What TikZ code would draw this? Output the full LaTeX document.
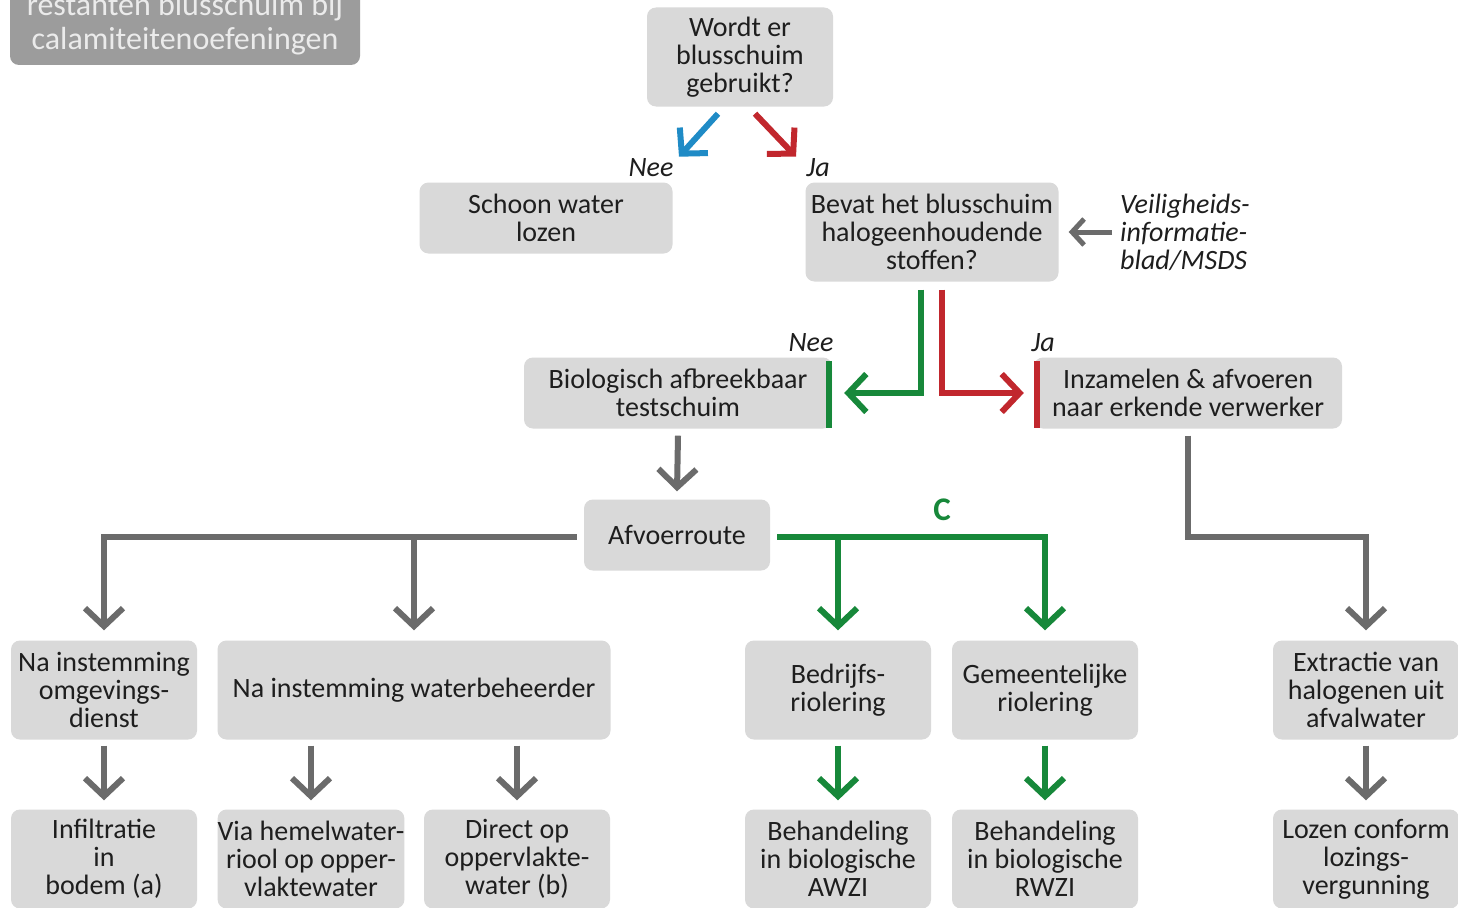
\documentclass[tikz,border=0pt]{standalone}
\usepackage{fontspec}
\setmainfont{Carlito}
\usepackage{xcolor}
\usetikzlibrary{arrows.meta,calc,positioning}

\definecolor{boxgray}{HTML}{D9D9D9}
\definecolor{titlegray}{HTML}{9C9C9C}
\definecolor{linegray}{HTML}{6B6B6B}
\definecolor{okgreen}{HTML}{17883A}
\definecolor{nored}{HTML}{C1272D}
\definecolor{neeblue}{HTML}{1F8BC6}
\definecolor{inkdark}{HTML}{1E1E1E}

\tikzset{
  box/.style={fill=boxgray, rounded corners=9pt, align=center, inner sep=0pt, text=inkdark,
    font=\fontsize{28}{28}\selectfont, minimum width=186pt, minimum height=99pt},
  flow/.style={draw=linegray, line width=6pt, -{Straight Barb[length=18pt,width=38pt]}},
  lab/.style={font=\fontsize{28}{28}\selectfont\itshape, text=inkdark, inner sep=0pt},
}

\begin{document}
\begin{tikzpicture}[x=1pt, y=-1pt]
    \useasboundingbox (0,0) rectangle (1458,907);
    \fill[white] (0,0) rectangle (1458,907);
    \clip (0,0) rectangle (1458,907);

    % title, cut off at the top
    \node[box, fill=titlegray, text=white!92!black, font=\fontsize{32}{32}\selectfont,
        minimum width=350pt, minimum height=82pt] (titel) at (185,24) {restanten blusschuim bij\\[2pt]calamiteitenoefeningen};

    \node[box] (gebruikt) at (740,57) {Wordt er\\blusschuim\\gebruikt?};
    \node[box, minimum width=253pt, minimum height=71pt] (schoon) at (546,218) {Schoon water\\lozen};
    \node[box, minimum width=253pt] (halogeen) at (932,232) {Bevat het blusschuim\\halogeenhoudende\\stoffen?};
    \node[lab, align=left, anchor=west] (msds) at (1120,232) {Veiligheids-\\informatie-\\blad/MSDS};
    \node[box, minimum width=308pt, minimum height=71pt] (testschuim) at (678,393) {Biologisch afbreekbaar\\testschuim};
    \node[box, minimum width=308pt, minimum height=71pt] (inzamelen) at (1188,393) {Inzamelen \& afvoeren\\naar erkende verwerker};
    \node[box, minimum height=71pt] (afvoer) at (677,535) {Afvoerroute};

    \node[box] (omgeving) at (104,690) {Na instemming\\omgevings-\\dienst};
    \node[box, minimum width=393pt] (waterbeh) at (414,690) {Na instemming waterbeheerder};
    \node[box] (bedrijf) at (838,690) {Bedrijfs-\\riolering};
    \node[box] (gemeente) at (1045,690) {Gemeentelijke\\riolering};
    \node[box] (extractie) at (1366,690) {Extractie van\\halogenen uit\\afvalwater};

    \node[box] (infiltratie) at (104,859) {Infiltratie\\in\\bodem (a)};
    \node[box] (hemelwater) at (311,859) {Via hemelwater-\\riool op opper-\\vlaktewater};
    \node[box] (oppervlak) at (517,859) {Direct op\\oppervlakte-\\water (b)};
    \node[box] (awzi) at (838,859) {Behandeling\\in biologische\\AWZI};
    \node[box] (rwzi) at (1045,859) {Behandeling\\in biologische\\RWZI};
    \node[box] (lozen) at (1366,859) {Lozen conform\\lozings-\\vergunning};

    \node[lab] (nee1) at (651,168) {Nee};
    \node[lab] (ja1) at (818,168) {Ja};
    \node[lab] (nee2) at (811,343) {Nee};
    \node[lab] (ja2) at (1043,343) {Ja};
    \node[font=\fontsize{33}{33}\selectfont\bfseries, text=okgreen] (cgroen) at (942,510) {C};

    % colour bars on the box edges
    \draw[okgreen, line width=6pt] ($(testschuim.north east)+(-3,4)$) -- ($(testschuim.south east)+(-3,-1)$);
    \draw[nored, line width=6pt] ($(inzamelen.north west)+(3,4)$) -- ($(inzamelen.south west)+(3,-1)$);

    \draw[flow, draw=neeblue] ($(gebruikt.south)+(-22,7)$) -- ($(gebruikt.south)+(-61,50)$);
    \draw[flow, draw=nored] ($(gebruikt.south)+(15,7)$) -- ($(gebruikt.south)+(56,50)$);
    \draw[flow, line width=5pt, -{Straight Barb[length=12pt,width=26pt]}] ($(msds.west)+(-8,0)$) -- ($(halogeen.east)+(10,0)$);
    \draw[flow, draw=okgreen] ($(halogeen.south)+(-11,8)$) |- ($(testschuim.east)+(12,0)$);
    \draw[flow, draw=nored] ($(halogeen.south)+(10,8)$) |- ($(inzamelen.west)+(-10,0)$);
    \draw[flow] ($(testschuim.south)+(0,7)$) -- ($(afvoer.north)+(0,-8)$);

    \coordinate (links) at ($(afvoer.west)+(-7,2)$);
    \coordinate (rechts) at ($(afvoer.east)+(7,2)$);
    \draw[flow] (links) -| ($(omgeving.north)+(0,-10)$);
    \draw[flow] (waterbeh.north |- links) -- ($(waterbeh.north)+(0,-10)$);
    \draw[flow, draw=okgreen] (rechts) -| ($(gemeente.north)+(0,-10)$);
    \draw[flow, draw=okgreen] (bedrijf.north |- rechts) -- ($(bedrijf.north)+(0,-10)$);
    \draw[flow] ($(inzamelen.south)+(0,7)$) |- (extractie.north |- rechts) -- ($(extractie.north)+(0,-10)$);

    \foreach \van/\naar in {omgeving/infiltratie, waterbeh/hemelwater, waterbeh/oppervlak, extractie/lozen}
        \draw[flow] ($(\naar.north |- \van.south)+(0,6)$) -- ($(\naar.north)+(0,-9)$);
    \foreach \van/\naar in {bedrijf/awzi, gemeente/rwzi}
        \draw[flow, draw=okgreen] ($(\naar.north |- \van.south)+(0,6)$) -- ($(\naar.north)+(0,-9)$);
\end{tikzpicture}
\end{document}
